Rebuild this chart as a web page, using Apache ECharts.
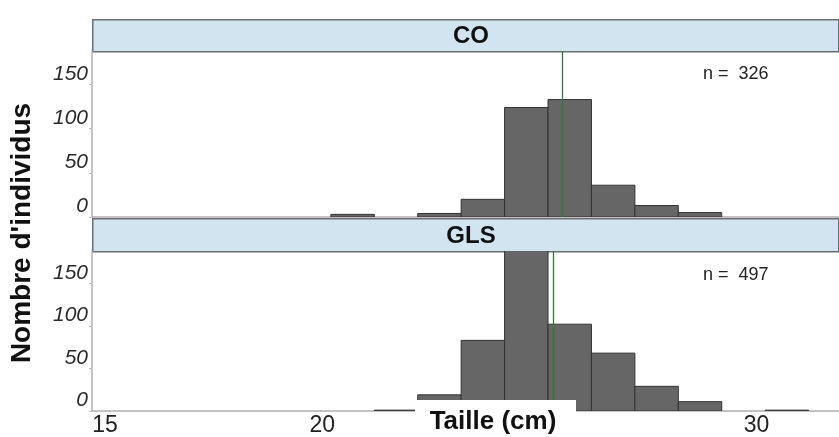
<!DOCTYPE html>
<html>
<head>
    <meta charset="utf-8">
    <title>Taille (cm)</title>
    <script src="https://cdn.jsdelivr.net/npm/echarts@6/dist/echarts.min.js"></script>
    <style>
        html, body { margin: 0; padding: 0; background: #fff; }
        #charts { width: 839px; height: 437px; }
    </style>
</head>
<body>
<div id="charts"></div>
<script>
    // classes de taille (début de chaque classe, largeur 1 cm)
    var binStarts = [20.2, 21.2, 22.2, 23.2, 24.2, 25.2, 26.2, 27.2, 28.2, 29.2, 30.2];
    var binWidth = 1;
    var coCounts  = [3, 0, 4, 20, 124, 133, 36, 13, 5, 0, 0];
    var glsCounts = [0, 1, 19, 83, 200, 102, 68, 29, 11, 0, 1];
    var coMean = 25.52;
    var glsMean = 25.31;
    var panelNames = ['CO', 'GLS'];
    var panelN = ['n =  326', 'n =  497'];
    var xTicks = [15, 20, 25, 30];
    var yMax = 188;

    var font = '"Liberation Sans", Arial, sans-serif';

    function toBins(counts) {
        var out = [];
        for (var i = 0; i < counts.length; i++) {
            out.push([binStarts[i], binStarts[i] + binWidth, counts[i]]);
        }
        return out;
    }

    function renderBin(params, api) {
        var p0 = api.coord([api.value(0), api.value(2)]);
        var p1 = api.coord([api.value(1), 0]);
        if (api.value(2) <= 0) return;
        return {
            type: 'rect',
            shape: { x: p0[0], y: p0[1], width: p1[0] - p0[0], height: p1[1] - p0[1] },
            style: { fill: '#666666', stroke: '#333333', lineWidth: 1 }
        };
    }

    var myChart = echarts.init(document.getElementById('charts'));

    function xAxisOf(idx, showLabels) {
        return {
            type: 'value', gridIndex: idx, min: 14.7, max: 31.9,
            axisLine: { show: true, lineStyle: { color: '#b0b0b0', width: 1.5 } },
            axisTick: { show: false },
            splitLine: { show: false },
            axisLabel: {
                show: showLabels, customValues: xTicks, margin: 3,
                fontSize: 23, color: '#222', fontFamily: font
            }
        };
    }

    function yAxisOf(idx) {
        return {
            type: 'value', gridIndex: idx, min: 0, max: yMax, interval: 50,
            axisLine: { show: true, lineStyle: { color: '#b0b0b0', width: 1.5 } },
            axisTick: { show: true, length: 3, lineStyle: { color: '#bbb' } },
            splitLine: { show: false },
            axisLabel: {
                fontSize: 21, fontStyle: 'italic', color: '#2a2a2a', fontFamily: font,
                margin: 4, verticalAlign: 'bottom',
                showMaxLabel: false
            }
        };
    }

    function histSeries(idx, counts) {
        return {
            type: 'custom', xAxisIndex: idx, yAxisIndex: idx, clip: true,
            renderItem: renderBin,
            encode: { x: [0, 1], y: 2 },
            data: toBins(counts)
        };
    }

    // ligne verte de la moyenne, au-dessus des barres
    function meanSeries(idx, mean) {
        return {
            type: 'line', xAxisIndex: idx, yAxisIndex: idx, z: 10, data: [],
            markLine: {
                silent: true, symbol: 'none', label: { show: false },
                lineStyle: { color: '#2f7d2f', type: 'solid', width: 1.3 },
                data: [{ xAxis: mean }]
            }
        };
    }

    var option = {
        animation: false,
        grid: [
            { left: 92, right: 0, top: 51, height: 166 },
            { left: 92, right: 0, top: 251, height: 165 }
        ],
        xAxis: [xAxisOf(0, false), xAxisOf(1, true)],
        yAxis: [yAxisOf(0), yAxisOf(1)],
        series: [
            histSeries(0, coCounts),
            histSeries(1, glsCounts),
            meanSeries(0, coMean),
            meanSeries(1, glsMean)
        ],
        graphic: [
            // bandeaux des panneaux
            { type: 'rect', left: 92, top: 19, shape: { width: 746, height: 32 },
              style: { fill: '#d2e4ef', stroke: '#6b6f73', lineWidth: 1.5 } },
            { type: 'rect', left: 92, top: 218, shape: { width: 746, height: 33 },
              style: { fill: '#d2e4ef', stroke: '#6b6f73', lineWidth: 1.5 } },
            { type: 'text', x: 471, y: 36, style: { text: panelNames[0], font: 'bold 24px ' + font,
              fill: '#111', align: 'center', verticalAlign: 'middle' } },
            { type: 'text', x: 471, y: 236, style: { text: panelNames[1], font: 'bold 24px ' + font,
              fill: '#111', align: 'center', verticalAlign: 'middle' } },
            { type: 'text', x: 703, y: 74, style: { text: panelN[0], font: '18px ' + font,
              fill: '#222', verticalAlign: 'middle' } },
            { type: 'text', x: 703, y: 275, style: { text: panelN[1], font: '18px ' + font,
              fill: '#222', verticalAlign: 'middle' } },
            // titre axe y
            { type: 'text', x: 22, y: 233, rotation: Math.PI / 2,
              style: { text: "Nombre d'individus", font: 'bold 28px ' + font, fill: '#111',
                       align: 'center', verticalAlign: 'middle' } },
            // titre axe x dans un cadre blanc
            { type: 'rect', left: 415, top: 400, shape: { width: 161, height: 37 },
              style: { fill: '#fff' }, z: 100 },
            { type: 'text', x: 493, y: 422, z: 101,
              style: { text: 'Taille (cm)', font: 'bold 26px ' + font, fill: '#111',
                       align: 'center', verticalAlign: 'middle' } }
        ]
    };
    myChart.setOption(option);
</script>
</body>
</html>
